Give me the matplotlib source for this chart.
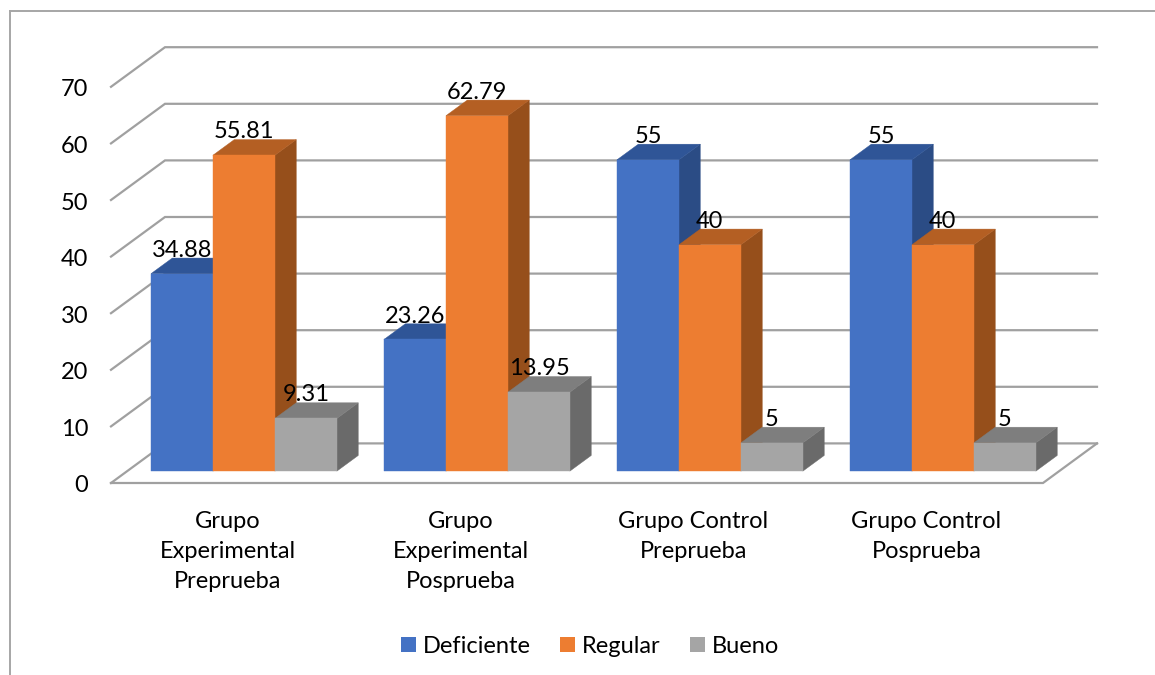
import matplotlib
matplotlib.use('Agg')
import matplotlib.pyplot as plt
from matplotlib.lines import Line2D
from matplotlib.patches import Patch, Polygon
from matplotlib.transforms import ScaledTranslation

categories = ['Grupo\nExperimental\nPreprueba', 'Grupo\nExperimental\nPosprueba',
              'Grupo Control\nPreprueba', 'Grupo Control\nPosprueba']
series_names = ['Deficiente', 'Regular', 'Bueno']
deficiente = [34.88, 23.26, 55, 55]
regular = [55.81, 62.79, 40, 40]
bueno = [9.31, 13.95, 5, 5]
yticks = [0, 10, 20, 30, 40, 50, 60, 70]

# front, top and side shades of each series
shades = [('#4472C4', '#2F5597', '#2B4C85'),
          ('#ED7D31', '#B45F23', '#964F1B'),
          ('#A5A5A5', '#7E7E7E', '#6A6A6A')]
grid_color = '#A0A0A0'

W, H = 1155, 675
plt.rcParams['font.family'] = ['Lato', 'DejaVu Sans']
plt.rcParams['font.size'] = 17

fig = plt.figure(figsize=(W / 100, H / 100), dpi=100)
ax = fig.add_axes([111 / W, 1 - 483 / H, 932 / W, 396.2 / H])
ax.set_xlim(0, 4)
ax.set_ylim(0, 70)
for s in ax.spines.values():
	s.set_visible(False)

# oblique depth of the floor, in data units
DEPTH_X = 54 / 233
DEPTH_Y = 39.6 / 5.66
BAR_FRONT = 0.3
BAR_BACK = 0.695
GAP = 0.102
BAR_W = 0.266

def project(x, y, d):
	return (x + d * DEPTH_X, y + d * DEPTH_Y)

def addPoly(points, color, z):
	ax.add_patch(Polygon(points, closed=True, facecolor=color, edgecolor=color,
		linewidth=0.3, clip_on=False, zorder=z))

# walls and floor
for v in yticks:
	xs, ys = zip(project(0, v, 0), project(0, v, 1), project(4, v, 1))
	ax.plot(xs, ys, color=grid_color, lw=1.6, clip_on=False, zorder=1, solid_joinstyle='miter')
xs, ys = zip(project(0, 0, 0), project(4, 0, 0), project(4, 0, 1))
ax.plot(xs, ys, color=grid_color, lw=1.6, clip_on=False, zorder=1, solid_joinstyle='miter')

# bars, left to right so later ones hide the sides of earlier ones
z = 2
for i in range(len(categories)):
	for j, values in enumerate([deficiente, regular, bueno]):
		v = values[i]
		x0 = i + GAP + j * BAR_W
		x1 = x0 + BAR_W
		front, top, side = shades[j]
		addPoly([project(x1, 0, BAR_FRONT), project(x1, 0, BAR_BACK),
			project(x1, v, BAR_BACK), project(x1, v, BAR_FRONT)], side, z)
		addPoly([project(x0, v, BAR_FRONT), project(x1, v, BAR_FRONT),
			project(x1, v, BAR_BACK), project(x0, v, BAR_BACK)], top, z)
		addPoly([project(x0, 0, BAR_FRONT), project(x1, 0, BAR_FRONT),
			project(x1, v, BAR_FRONT), project(x0, v, BAR_FRONT)], front, z)
		z += 1
		cx, cy = project((x0 + x1) / 2, v, BAR_FRONT)
		ax.annotate(f'{v:g}', (cx, cy), xytext=(0, 12.2), textcoords='offset points',
			ha='center', va='baseline', color='black', zorder=50, annotation_clip=False)

ax.set_yticks(yticks)
ax.set_xticks([i + 0.5 for i in range(len(categories))])
ax.set_xticklabels(categories, linespacing=1.54)
ax.tick_params(axis='both', length=0, labelcolor='black')
ax.tick_params(axis='y', pad=16.5)
ax.tick_params(axis='x', pad=20.2)

# nudge the value labels down a pixel
nudge = ScaledTranslation(0, -1 / 100, fig.dpi_scale_trans)
for t in ax.get_yticklabels():
	t.set_transform(t.get_transform() + nudge)

handles = [Patch(facecolor=s[0], edgecolor='none') for s in shades]
fig.legend(handles, series_names, loc='center', bbox_to_anchor=(590 / W, 1 - 646.5 / H), ncol=3,
	frameon=False, handlelength=0.635, handleheight=0.635, handletextpad=0.3, columnspacing=1.23,
	borderpad=0)

# chart border, open at the bottom and the right
border = dict(color='#A6A6A6', lw=1.4, transform=fig.transFigure)
fig.add_artist(Line2D([9.7 / W, 9.7 / W], [0, 1 - 10.7 / H], **border))
fig.add_artist(Line2D([9.7 / W, 1], [1 - 10.7 / H, 1 - 10.7 / H], **border))

fig.savefig('out.png', dpi=100)
